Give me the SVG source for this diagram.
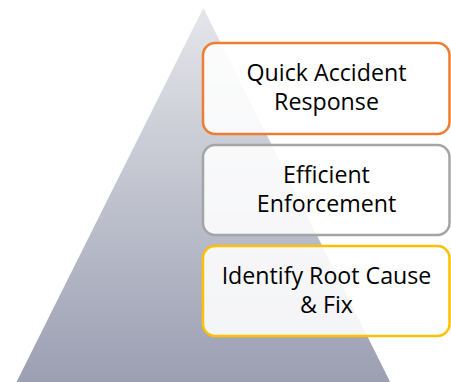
<svg xmlns="http://www.w3.org/2000/svg" width="451" height="382" viewBox="0 0 451 382">
  <defs>
    <linearGradient id="pyramidFill" x1="0" y1="8" x2="0" y2="382" gradientUnits="userSpaceOnUse">
      <stop offset="0" stop-color="#e5e6ea"/>
      <stop offset="1" stop-color="#9b9fb2"/>
    </linearGradient>
  </defs>
  <style>
    .box { fill: #ffffff; fill-opacity: 0.88; stroke-width: 2.5; }
    .label { font-family: "Open Sans", "Noto Sans", sans-serif; font-size: 23.2px; fill: #000000; text-anchor: middle; }
  </style>

  <!-- background pyramid -->
  <g id="pyramid">
    <polygon points="203.3,8 16.5,382 390.2,382" fill="url(#pyramidFill)"/>
  </g>

  <g id="connectors"/>

  <g id="node-response">
    <rect class="box" x="203" y="43" width="246.5" height="91" rx="12" stroke="#ED7D31"/>
    <text class="label" x="326.5" y="81">Quick Accident</text>
    <text class="label" x="326.5" y="110">Response</text>
  </g>

  <g id="node-enforcement">
    <rect class="box" x="203" y="145" width="246.5" height="90" rx="12" stroke="#A5A5A5"/>
    <text class="label" x="326.5" y="183">Efficient</text>
    <text class="label" x="326.5" y="212">Enforcement</text>
  </g>

  <g id="node-rootcause">
    <rect class="box" x="203" y="246" width="246.5" height="90" rx="12" stroke="#FFC000"/>
    <text class="label" x="326.5" y="284">Identify Root Cause</text>
    <text class="label" x="326.5" y="313">&amp; Fix</text>
  </g>
</svg>
